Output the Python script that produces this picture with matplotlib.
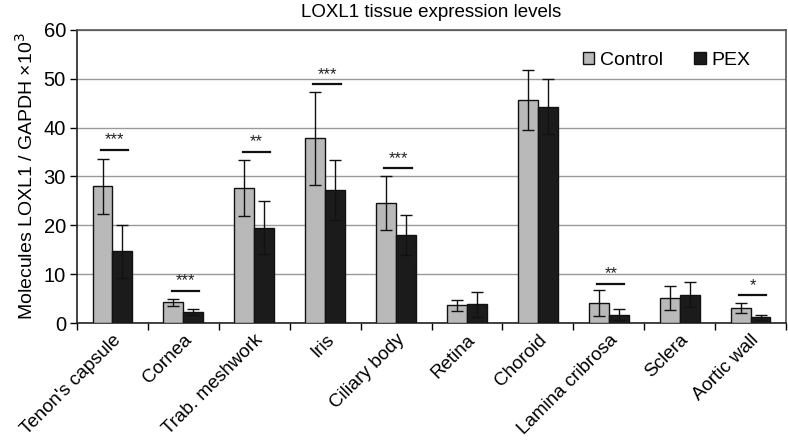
import matplotlib
matplotlib.use("Agg")
import matplotlib.pyplot as plt
import numpy as np
from matplotlib.patches import Patch

plt.rcParams['font.family'] = ['Liberation Sans', 'DejaVu Sans']

categories = ["Tenon's capsule", "Cornea", "Trab. meshwork", "Iris", "Ciliary body",
              "Retina", "Choroid", "Lamina cribrosa", "Sclera", "Aortic wall"]
control = [28.0, 4.2, 27.6, 37.8, 24.6, 3.6, 45.7, 4.1, 5.1, 3.0]
control_err = [5.6, 0.8, 5.7, 9.5, 5.6, 1.1, 6.1, 2.6, 2.5, 1.0]
pex = [14.7, 2.3, 19.5, 27.2, 18.0, 3.8, 44.3, 1.7, 5.8, 1.2]
pex_err = [5.4, 0.6, 5.4, 6.1, 4.1, 2.5, 5.6, 1.1, 2.5, 0.5]
# significance: (category index, line height, label)
sig_idx = [0, 1, 2, 3, 4, 7, 9]
sig_y = [35.5, 6.6, 35.1, 48.9, 31.7, 8.05, 5.7]
sig_lbl = ["***", "***", "**", "***", "***", "**", "*"]
yticks = [0, 10, 20, 30, 40, 50, 60]

fig = plt.figure(figsize=(7.88, 4.47), dpi=100)
ax = fig.add_axes([0.0977, 0.2774, 0.8998, 0.6555])

x = np.arange(len(categories))
w = 0.28
ax.bar(x - w/2, control, w, color='#b9b9b9', edgecolor='#111111', linewidth=1.0, zorder=3)
ax.bar(x + w/2, pex, w, color='#1b1b1b', edgecolor='#111111', linewidth=1.0, zorder=3)
ax.errorbar(x - w/2, control, yerr=control_err, fmt='none', ecolor='#111111',
            elinewidth=1.0, capsize=4, capthick=1.0, zorder=4)
ax.errorbar(x + w/2, pex, yerr=pex_err, fmt='none', ecolor='#111111',
            elinewidth=1.0, capsize=4, capthick=1.0, zorder=4)

for i, yv, lb in zip(sig_idx, sig_y, sig_lbl):
    ax.plot([i - 0.165, i + 0.22], [yv, yv], color='#111111', lw=1.6, zorder=4)
    ax.text(i + 0.03, yv + 0.5, lb, ha='center', va='bottom', fontsize=12, color='#222222')

ax.set_xlim(-0.5, len(categories) - 0.5)
ax.set_ylim(0, 60)
ax.set_yticks(yticks)
ax.tick_params(axis='y', labelsize=14.5, direction='out', length=5, width=1, pad=3)
ax.set_xticks(x)
ax.set_xticklabels(categories, rotation=45, ha='right', rotation_mode='anchor', fontsize=13.5)
ax.tick_params(axis='x', which='major', length=0, pad=6)
ax.set_xticks(np.arange(-0.5, len(categories) + 0.5, 1), minor=True)
ax.tick_params(axis='x', which='minor', length=5, width=1, direction='out')

ax.grid(axis='y', color='#9a9a9a', lw=1.0, zorder=0)
ax.set_axisbelow(True)
for s in ['left', 'bottom']:
    ax.spines[s].set_color('#222222')
    ax.spines[s].set_linewidth(1.2)
for s in ['top', 'right']:
    ax.spines[s].set_color('#555555')
    ax.spines[s].set_linewidth(1.2)

ax.set_ylabel('Molecules LOXL1 / GAPDH \u00d710$^3$', fontsize=14, labelpad=5)
fig.text(0.547, 0.972, 'LOXL1 tissue expression levels', ha='center', va='center', fontsize=13.5)

handles = [Patch(facecolor='#b9b9b9', edgecolor='#111111', label='Control'),
           Patch(facecolor='#1b1b1b', edgecolor='#111111', label='PEX')]
ax.legend(handles=handles, loc='upper right', ncol=2, frameon=False, fontsize=14,
          handlelength=0.6, handleheight=0.6, handletextpad=0.3, columnspacing=1.6,
          bbox_to_anchor=(0.975, 0.985))

fig.savefig('out.png', dpi=100)
